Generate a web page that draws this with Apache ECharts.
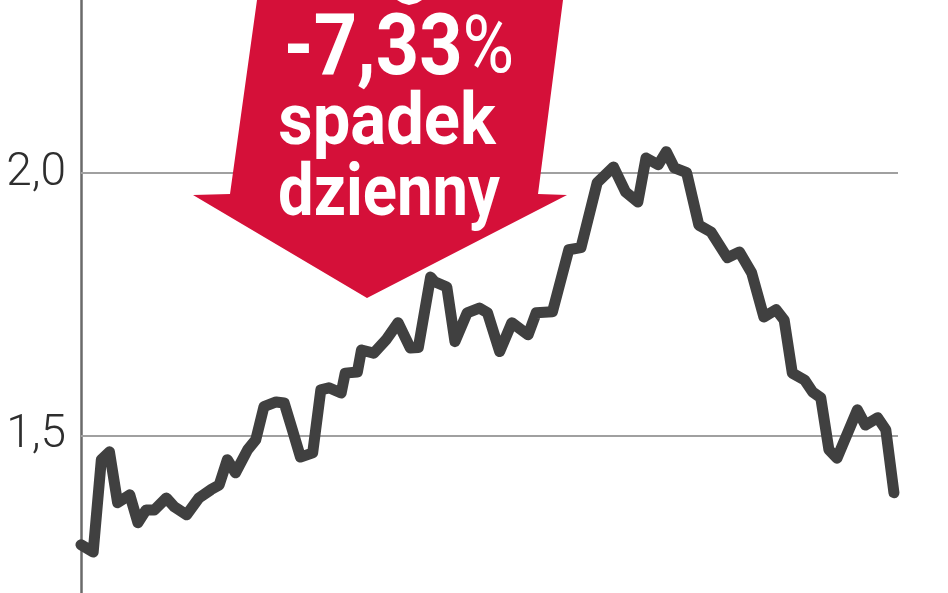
<!DOCTYPE html>
<html>
<head>
<meta charset="utf-8">
<script src="https://cdn.jsdelivr.net/npm/echarts@6/dist/echarts.min.js"></script>
<style>
html,body{margin:0;padding:0;background:#fff;}
#c{width:948px;height:593px;}
</style>
</head>
<body>
<div id="c"></div>
<script>
// trading day index of each vertex
const days = [0,3,5,7,9,12,14,16,18,21,23,26,29,32,34,36,38,41,43,45,48,50,52,54,57,59,61,64,65,68,69,72,75,78,81,83,86,87,90,92,95,98,100,103,106,110,112,116,120,123,127,131,134,137,139,142,144,146,149,152,155,159,162,165,168,171,173,175,178,180,182,184,186,191,193,196,198,200];
// price values
const prices = [1.292,1.278,1.454,1.469,1.372,1.387,1.334,1.358,1.358,1.381,1.364,1.349,1.381,1.397,1.406,1.454,1.429,1.473,1.492,1.555,1.564,1.562,1.511,1.459,1.467,1.587,1.591,1.581,1.619,1.621,1.663,1.657,1.682,1.715,1.667,1.668,1.802,1.793,1.783,1.679,1.734,1.743,1.734,1.660,1.715,1.692,1.734,1.736,1.854,1.858,1.982,2.012,1.964,1.945,2.029,2.016,2.041,2.010,2.001,1.901,1.888,1.839,1.850,1.810,1.726,1.740,1.720,1.619,1.606,1.583,1.572,1.473,1.457,1.549,1.520,1.534,1.511,1.391];
const yTicks = [1.5, 2.0];
const annotation = ['-7,33', '%', 'spadek', 'dzienny'];

const seriesData = days.map((d, i) => [d, prices[i]]);

const chart = echarts.init(document.getElementById('c'), null, {renderer: 'canvas'});
chart.setOption({
  animation: false,
  backgroundColor: '#ffffff',
  grid: {left: 81, top: 0, width: 817, height: 593, containLabel: false},
  xAxis: {
    type: 'value', min: 0, max: 201,
    show: false
  },
  yAxis: {
    type: 'value', min: 1.2, max: 2.33,
    axisLine: {show: true, lineStyle: {color: '#6a6a6a', width: 2.5}},
    axisTick: {show: false},
    splitLine: {show: false},
    axisLabel: {
      customValues: yTicks,
      margin: 15,
      color: '#2e2e2e',
      fontFamily: 'Roboto',
      fontWeight: 300,
      fontSize: 46,
      formatter: v => v.toFixed(1).replace('.', ',')
    }
  },
  series: [
    {
      type: 'line',
      data: [],
      z: 1,
      silent: true,
      markLine: {
        silent: true,
        symbol: 'none',
        label: {show: false},
        lineStyle: {color: '#a0a0a0', width: 2, type: 'solid'},
        data: yTicks.map(v => ({yAxis: v}))
      }
    },
    {
      type: 'line',
      data: seriesData,
      z: 5,
      showSymbol: false,
      symbol: 'none',
      lineStyle: {color: '#404040', width: 11, cap: 'round', join: 'round'}
    }
  ],
  graphic: [
    {
      type: 'polygon', z: 10,
      shape: {points: [[257,0],[563,0],[538,194],[567,195],[367,298],[193,195],[230,194]]},
      style: {fill: '#d51039'}
    },
    {
      type: 'polygon', z: 11,
      shape: {points: [[397,0],[422,0],[417,3],[409,5],[402,3]]},
      style: {fill: '#ffffff'}
    },
    {
      type: 'text', z: 12, x: 399, y: 52, scaleX: 0.88,
      style: {
        text: '{a|' + annotation[0] + '}{b|' + annotation[1] + '}',
        align: 'center', verticalAlign: 'middle',
        rich: {
          a: {fontFamily: 'Roboto', fontWeight: 'bold', fontSize: 86, fill: '#ffffff', color: '#ffffff'},
          b: {fontFamily: 'Roboto', fontWeight: 'normal', fontSize: 80, fill: '#ffffff', color: '#ffffff'}
        }
      }
    },
    {
      type: 'text', z: 12, x: 387, y: 126, scaleX: 0.93,
      style: {text: annotation[2], fill: '#ffffff', font: 'bold 72px Roboto', align: 'center', verticalAlign: 'middle'}
    },
    {
      type: 'text', z: 12, x: 389, y: 197, scaleX: 0.88,
      style: {text: annotation[3], fill: '#ffffff', font: 'bold 72px Roboto', align: 'center', verticalAlign: 'middle'}
    }
  ]
});
</script>
</body>
</html>
